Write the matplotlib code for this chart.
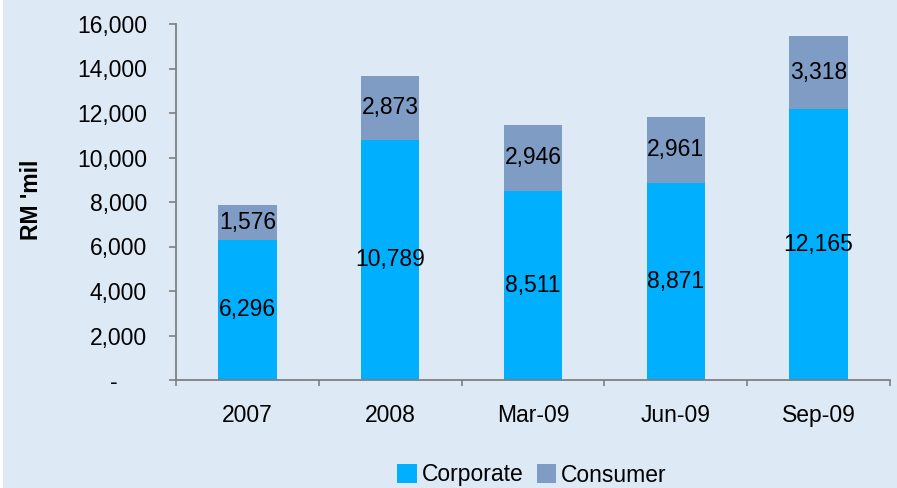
import matplotlib.pyplot as plt
from matplotlib.patches import Rectangle
from matplotlib.transforms import ScaledTranslation

# data
periods = ['2007', '2008', 'Mar-09', 'Jun-09', 'Sep-09']
corporate = [6296, 10789, 8511, 8871, 12165]
consumer = [1576, 2873, 2946, 2961, 3318]
yticks = [0, 2000, 4000, 6000, 8000, 10000, 12000, 14000, 16000]

bg = '#DDE9F5'
c_corp = '#00B0FF'
c_cons = '#7F9CC5'
axis_col = '#7F7F7F'
fs = 16.5

plt.rcParams['font.family'] = 'Liberation Sans'

fig = plt.figure(figsize=(8.97, 4.88), dpi=100, facecolor=bg)
fig.patches.append(Rectangle((0, 0), 3 / 897, 1, transform=fig.transFigure,
                             facecolor='white', edgecolor='none'))
ax = fig.add_axes([176 / 897, 1 - 380 / 488, (890 - 176) / 897, (380 - 24) / 488])
ax.set_facecolor(bg)

x = list(range(len(periods)))
w = 0.41
b1 = ax.bar(x, corporate, width=w, color=c_corp, label='Corporate', zorder=2)
b2 = ax.bar(x, consumer, width=w, bottom=corporate, color=c_cons, label='Consumer', zorder=2)

# value labels in the middle of each segment
for i in x:
    ax.text(i, corporate[i] / 2, f'{corporate[i]:,}', ha='center', va='center',
            fontsize=fs, color='black', zorder=3)
    ax.text(i, corporate[i] + consumer[i] / 2, f'{consumer[i]:,}', ha='center',
            va='center', fontsize=fs, color='black', zorder=3)

ax.set_xlim(-0.5, 4.5)
ax.set_ylim(0, 16000)

# axes styling
for s in ['top', 'right']:
    ax.spines[s].set_visible(False)
for s in ['left', 'bottom']:
    ax.spines[s].set_color(axis_col)
    ax.spines[s].set_linewidth(1.3)

ax.set_yticks(yticks)
ax.set_yticklabels(['-'] + [f'{v:,}' for v in yticks[1:]])
ax.tick_params(axis='y', length=5, width=1.2, color=axis_col, pad=16, labelsize=fs)
# zero shown as a dash, shifted left like the accounting format
zero_lbl = ax.get_yticklabels()[0]
zero_lbl.set_transform(zero_lbl.get_transform() + ScaledTranslation(-29 / 100, 0, fig.dpi_scale_trans))

ax.set_xticks(x)
ax.set_xticklabels(periods)
ax.tick_params(axis='x', which='major', length=0, pad=17, labelsize=fs)
ax.set_xticks([i - 0.5 for i in range(len(periods) + 1)], minor=True)
ax.tick_params(axis='x', which='minor', length=4, width=1.2, color=axis_col)

fig.text(32 / 897, 1 - 200 / 488, "RM 'mil", rotation=90, fontsize=fs,
         fontweight='bold', ha='center', va='center')

fig.legend(handles=[b1, b2], labels=['Corporate', 'Consumer'], loc='center',
           bbox_to_anchor=(532 / 897, 1 - 475 / 488), ncol=2, frameon=False,
           fontsize=fs, handlelength=0.85, handleheight=0.85, handletextpad=0.2,
           columnspacing=0.6, borderpad=0, borderaxespad=0)

plt.savefig('out.png', dpi=100, facecolor=bg)
